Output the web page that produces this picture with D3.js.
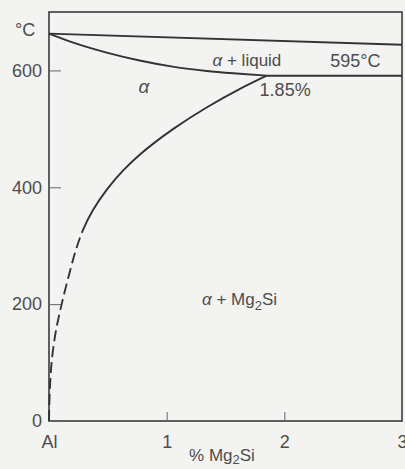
<!DOCTYPE html>
<html>
<head>
<meta charset="utf-8">
<script src="https://cdn.jsdelivr.net/npm/d3@7"></script>
<style>
  body { margin: 0; background: #f3f3f1; }
  svg text { font-family: "Liberation Sans", Arial, sans-serif; fill: #4d4d4d; }
</style>
</head>
<body>
<svg id="chart"></svg>
<script>
// values (% Mg2Si, degC)
let liquidus = [[0, 663], [3, 644]]
let eutectic = [[1.85, 591], [3, 591]]
let solidus = [[0, 663], [0.2, 648], [0.49, 630.5], [0.77, 617], [1.05, 606.5], [1.34, 599], [1.62, 594.3], [1.85, 591]]
// solvus, ordered by temperature (low to high); below 327 degC it is dashed
let solvus = [[0, 0], [0.008, 58], [0.024, 104], [0.055, 150], [0.11, 202], [0.17, 250], [0.24, 300], [0.289, 327],
              [0.374, 361], [0.493, 396.5], [0.629, 428.5], [0.773, 456], [1.054, 499.5], [1.343, 537], [1.623, 568.5], [1.85, 591]]
let solvus_dash_below = 327

let x_ticks = [0, 1, 2, 3]
let x_tick_labels = ["Al", "1", "2", "3"]
let y_ticks = [0, 200, 400, 600]

let width = 405, height = 469
let svg = d3.select('#chart')
    .attr('width', width)
    .attr('height', height)

let x = d3.scaleLinear().domain([0, 3]).range([49, 402])
let y = d3.scaleLinear().domain([0, 700]).range([421, 12])

// frame
svg.append("rect")
    .attr("x", x(0))
    .attr("y", y(700))
    .attr("width", x(3) - x(0))
    .attr("height", y(0) - y(700))
    .attr("fill", "none")
    .attr("stroke", "#3a3a3a")
    .attr("stroke-width", 1.6)

// axes, ticks pointing inward
let y_axis = svg.append("g")
    .attr("transform", "translate(" + x(0) + ",0)")
    .call(d3.axisLeft(y).tickValues(y_ticks).tickSize(-12).tickPadding(7))
y_axis.select(".domain").remove()
y_axis.selectAll("line").attr("stroke", "#666").attr("stroke-width", 1)
y_axis.selectAll("text").style("font-size", "18px").attr("fill", "#4d4d4d")

let x_axis = svg.append("g")
    .attr("transform", "translate(0," + y(0) + ")")
    .call(d3.axisBottom(x).tickValues(x_ticks).tickSize(-9).tickPadding(14)
        .tickFormat(function(d, i){ return x_tick_labels[i] }))
x_axis.select(".domain").remove()
x_axis.selectAll("line").attr("stroke", "#666").attr("stroke-width", 1)
x_axis.selectAll("text").style("font-size", "18px").attr("fill", "#4d4d4d")

// phase boundaries
let line_x = d3.line()
    .x(function(d){ return x(d[0]) })
    .y(function(d){ return y(d[1]) })
    .curve(d3.curveMonotoneX)

let line_y = d3.line()
    .x(function(d){ return x(d[0]) })
    .y(function(d){ return y(d[1]) })
    .curve(d3.curveMonotoneY)

let curves = [
    {name: "liquidus", data: liquidus, gen: line_x},
    {name: "eutectic", data: eutectic, gen: line_x},
    {name: "solidus", data: solidus, gen: line_x},
    {name: "solvus", data: solvus, gen: line_y}
]

let paths = svg.selectAll("path.boundary")
    .data(curves)
    .enter()
    .append("path")
    .attr("class", "boundary")
    .attr("d", function(d){ return d.gen(d.data) })
    .attr("fill", "none")
    .attr("stroke", "#333")
    .attr("stroke-width", 1.9)

// dash only the low-temperature end of the solvus
let sv = paths.filter(function(d){ return d.name == "solvus" }).node()
let total = sv.getTotalLength()
let y_cut = y(solvus_dash_below)
let lo = 0, hi = total
for(let k=0; k<40; k++){
    let mid = (lo + hi) / 2
    if(sv.getPointAtLength(mid).y > y_cut) lo = mid
    else hi = mid
}
let dashes = []
let s = 0
while(s + 16 <= lo){
    dashes.push(11, 5)
    s += 16
}
dashes.push(Math.max(lo - s, 0), 0, total)
d3.select(sv).attr("stroke-dasharray", dashes.join(","))

// labels
svg.append("text").attr("x", 15).attr("y", 36).style("font-size", "18px").text("°C")

svg.append("text")
    .attr("x", x(0.76)).attr("y", y(561))
    .style("font-size", "19px").style("font-style", "italic")
    .text("α")

let t1 = svg.append("text").attr("x", x(1.39)).attr("y", y(607)).style("font-size", "17px")
t1.append("tspan").style("font-style", "italic").text("α")
t1.append("tspan").text(" + liquid")

svg.append("text").attr("x", x(2.39)).attr("y", y(606)).style("font-size", "18px").text("595°C")
svg.append("text").attr("x", x(1.79)).attr("y", y(556)).style("font-size", "18px").text("1.85%")

let t2 = svg.append("text").attr("x", x(1.3)).attr("y", y(199)).style("font-size", "17px")
t2.append("tspan").style("font-style", "italic").text("α")
t2.append("tspan").text(" + Mg")
t2.append("tspan").attr("dy", 5).style("font-size", "13px").text("2")
t2.append("tspan").attr("dy", -5).text("Si")

let t3 = svg.append("text").attr("x", 222).attr("y", 461)
    .attr("text-anchor", "middle").style("font-size", "17px")
t3.append("tspan").text("% Mg")
t3.append("tspan").attr("dy", 3).style("font-size", "13px").text("2")
t3.append("tspan").attr("dy", -3).text("Si")
</script>
</body>
</html>
